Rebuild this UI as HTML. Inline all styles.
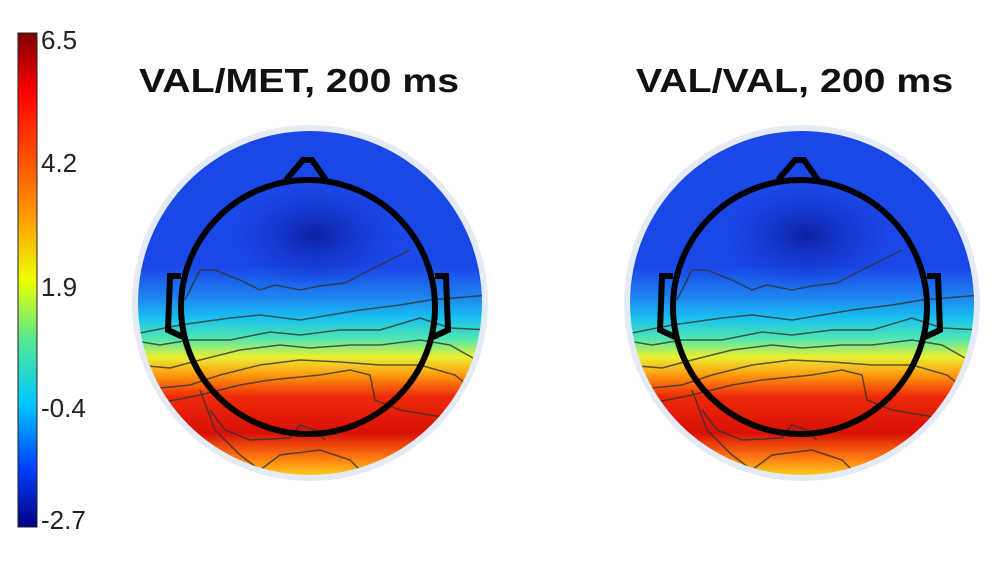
<!DOCTYPE html>
<html><head><meta charset="utf-8"><style>
html,body{margin:0;padding:0;background:#fff;}
body{width:1000px;height:577px;overflow:hidden;position:relative;font-family:"Liberation Sans",sans-serif;}
.t{position:absolute;font-weight:bold;font-size:33px;line-height:33px;color:#111;transform:scaleX(1.19);transform-origin:0 0;white-space:nowrap;}
.l{position:absolute;left:41px;font-size:26px;color:#222;}
</style></head><body>
<svg width="1000" height="577" style="position:absolute;left:0;top:0">
<defs>
<linearGradient id="cb" x1="0" y1="0" x2="0" y2="1">
<stop offset="0" stop-color="#800000"/><stop offset="0.12" stop-color="#ff0000"/>
<stop offset="0.37" stop-color="#ff9900"/><stop offset="0.5" stop-color="#eeff00"/>
<stop offset="0.62" stop-color="#55e890"/><stop offset="0.75" stop-color="#00c8ff"/>
<stop offset="0.88" stop-color="#0040ff"/><stop offset="1" stop-color="#000080"/>
</linearGradient>
<linearGradient id="tg" x1="0" y1="123" x2="0" y2="483" gradientUnits="userSpaceOnUse">
<stop offset="0" stop-color="#1a48e8"/><stop offset="0.4" stop-color="#1a48e8"/>
<stop offset="0.48" stop-color="#1e80f0"/><stop offset="0.54" stop-color="#18c0f0"/>
<stop offset="0.6" stop-color="#50e8b0"/><stop offset="0.65" stop-color="#e8f030"/>
<stop offset="0.7" stop-color="#ff9a10"/><stop offset="0.76" stop-color="#ee2a08"/>
<stop offset="0.86" stop-color="#d81008"/><stop offset="0.93" stop-color="#ff7a10"/>
<stop offset="1" stop-color="#f8f020"/>
</linearGradient>
<radialGradient id="dk" cx="0.5" cy="0.5" r="0.5"><stop offset="0" stop-color="#0a1890" stop-opacity="0.8"/><stop offset="1" stop-color="#1530d0" stop-opacity="0"/></radialGradient>
<clipPath id="cp"><circle cx="310" cy="303" r="172"/></clipPath>
<g id="topo">
<circle cx="310" cy="303" r="178" fill="#e4ebf6"/>
<g clip-path="url(#cp)">
<rect x="130" y="120" width="360" height="370" fill="url(#tg)"/>
<ellipse cx="315" cy="235" rx="90" ry="55" fill="url(#dk)"/>
<g fill="none" stroke="#333" stroke-width="1.5" opacity="0.8">
<path d="M185 300 L200 270 L215 270 L240 280 L260 290 L275 285 L300 290 L320 286 L345 283 L360 275 L390 260 L410 250"/>
<path d="M130 335 L180 325 L230 318 L260 315 L300 320 L330 315 L360 310 L400 305 L430 300 L490 295"/>
<path d="M130 340 L160 345 L190 340 L230 340 L270 332 L300 335 L340 330 L380 330 L420 318 L450 328 L490 330"/>
<path d="M135 365 L170 368 L200 360 L240 350 L280 345 L310 348 L350 345 L380 345 L420 340 L450 345 L480 362"/>
<path d="M140 390 L190 385 L220 375 L260 365 L300 360 L340 362 L380 365 L420 365 L455 375 L480 395"/>
<path d="M150 405 L200 395 L240 385 L270 380 L320 375 L350 370 L370 375 L375 400 L400 410 L460 420"/>
<path d="M200 390 L215 430 L240 455 L260 470 L280 455 L320 450 L350 460 L370 480"/>
<path d="M210 410 L225 430 L250 440 L290 438 L300 425 L315 430 L325 440"/>
</g>
</g>
<g fill="none" stroke="#000" stroke-width="6">
<circle cx="308" cy="307" r="127"/>
<path d="M286 180 L303 160 L312 160 L326 180"/>
<path d="M181 276 L170 276 L168 330 L183 337"/>
<path d="M435 276 L446 276 L448 330 L433 337"/>
</g>
</g>
</defs>
<rect x="18" y="33" width="19" height="494" fill="url(#cb)" stroke="#222" stroke-width="1"/>
<use href="#topo"/>
<use href="#topo" transform="translate(492,0)"/>
</svg>
<div class="t" style="left:139px;top:64px">VAL/MET, 200 ms</div>
<div class="t" style="left:636px;top:64px">VAL/VAL, 200 ms</div>
<div class="l" style="top:25px">6.5</div>
<div class="l" style="top:148px">4.2</div>
<div class="l" style="top:272px">1.9</div>
<div class="l" style="top:393px">-0.4</div>
<div class="l" style="top:505px">-2.7</div>
</body></html>
